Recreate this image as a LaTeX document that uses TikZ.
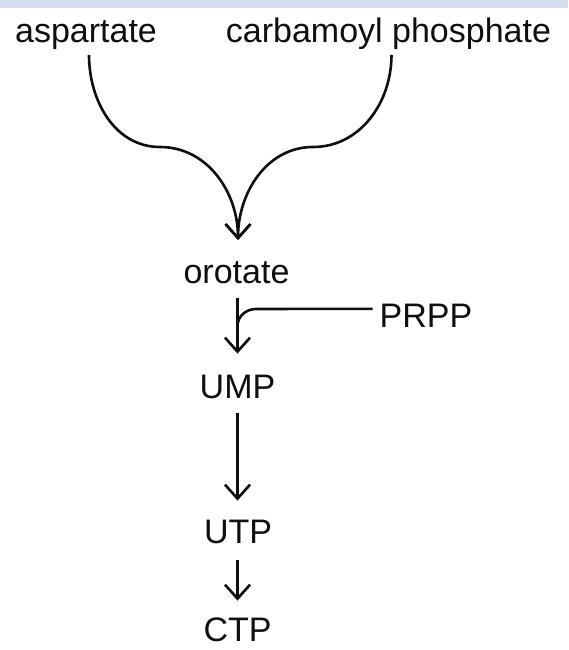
\documentclass[tikz,border=0pt]{standalone}
\usepackage{fontspec}
\setmainfont{Liberation Sans}
\usetikzlibrary{arrows.meta,calc}
\definecolor{band}{RGB}{211,223,241}
\definecolor{ink}{RGB}{15,15,15}
\begin{document}
\begin{tikzpicture}[x=1pt,y=-1pt,
  lbl/.style={anchor=base,inner sep=0pt,outer sep=0pt,text=ink,font=\fontsize{34}{40}\selectfont,text height=24.4pt,text depth=0pt},
  conn/.style={draw=ink,line width=2.6pt},
  arr/.style={conn,-{Straight Barb[length=14pt,width=25pt]}}]
\useasboundingbox (0,0) rectangle (568,650);
\fill[white] (0,0) rectangle (568,650);
\fill[band] (0,0) rectangle (568,8);
\node[lbl] (asp) at (86,43) {aspartate};
\node[lbl] (carb) at (388.5,43) {carbamoyl phosphate};
\node[lbl] (orot) at (236.5,283) {orotate};
\node[lbl] (prpp) at (426,327) {PRPP};
\node[lbl] (ump) at (237.5,398) {UMP};
\node[lbl] (utp) at (238,543) {UTP};
\node[lbl] (ctp) at (237.5,641) {CTP};
% converging curves
\coordinate (a0) at ($(asp.south)+(3,12)$);
\coordinate (c0) at ($(carb.south)+(3,12)$);
\coordinate (tip) at (238,240);
\draw[arr] (a0) to[out=-90,in=180] (160,147) to[out=0,in=90] (tip);
\draw[arr] (c0) to[out=-90,in=0] (313,147) to[out=180,in=90] (tip);
% orotate -> UMP
\draw[arr,shorten <=15pt,shorten >=20pt] (orot.south -| ump.base) -- (ump.north);
% PRPP joins
\coordinate (join) at (237.5,326);
\draw[conn] ($(prpp.west)+(-7,-6)$) -- (256,309) to[out=180,in=90] (join);
% UMP -> UTP -> CTP
\draw[arr,shorten <=15pt,shorten >=18pt] (ump.south) -- (ump.south |- utp.north);
\draw[arr,shorten <=17pt,shorten >=16pt] (utp.south -| ctp.base) -- (ctp.north);
\end{tikzpicture}
\end{document}
